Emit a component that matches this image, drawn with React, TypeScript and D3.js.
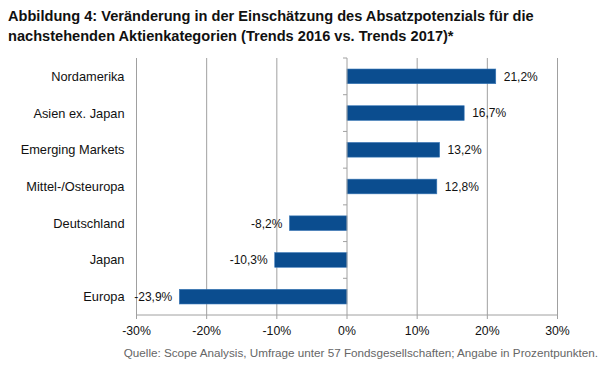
import React from "react";
import * as d3 from "d3";

const categories = ["Nordamerika", "Asien ex. Japan", "Emerging Markets", "Mittel-/Osteuropa", "Deutschland", "Japan", "Europa"];
const values = [21.2, 16.7, 13.2, 12.8, -8.2, -10.3, -23.9];
const ticks = [-30, -20, -10, 0, 10, 20, 30];
const titleLines = [
  "Abbildung 4: Veränderung in der Einschätzung des Absatzpotenzials für die",
  "nachstehenden Aktienkategorien (Trends 2016 vs. Trends 2017)*",
];
const sourceText = "Quelle: Scope Analysis, Umfrage unter 57 Fondsgesellschaften; Angabe in Prozentpunkten.";

const W = 608, H = 378;
const left = 136.5, right = 557.5, top = 58, bottom = 315;
const font = "Liberation Sans, Arial, sans-serif";

export default function App() {
  const x = d3.scaleLinear().domain([-30, 30]).range([left, right]);
  const y = d3.scaleBand().domain(categories).range([top, bottom]).paddingInner(0.6).paddingOuter(0.3);
  const yb = d3.scaleBand().domain(categories).range([top, bottom]);
  const fmt = (v: number) => v.toFixed(1).replace(".", ",") + "%";
  const x0 = x(0);
  return (
    <svg width={W} height={H} style={{ position: "absolute", left: 0, top: 0, background: "#fff" }} fontFamily={font}>
      {titleLines.map((t, i) => (
        <text key={i} x={8} y={21 + i * 19.5} fontSize={14.6} fontWeight="bold" fill="#111">{t}</text>
      ))}
      {ticks.filter(t => t !== 0).map(t => (
        <line key={t} x1={x(t)} x2={x(t)} y1={top} y2={bottom} stroke="#a0a0a0" strokeWidth={1} />
      ))}
      {categories.map((c, i) => {
        const v = values[i];
        const bx = Math.min(x(v), x0);
        const bw = Math.abs(x(v) - x0);
        const by = y(c)!;
        const bh = y.bandwidth();
        const cy = by + bh / 2;
        return (
          <g key={c}>
            <rect x={bx} y={by} width={bw} height={bh} fill="#0b4d8f" stroke="#3a78b8" strokeWidth={0.6} />
            <text x={v >= 0 ? x(v) + 8 : x(v) - 7} y={cy + 4.3} fontSize={12} fill="#111" textAnchor={v >= 0 ? "start" : "end"}>{fmt(v)}</text>
            <text x={124.5} y={cy + 4.5} fontSize={12.8} fill="#111" textAnchor="end">{c}</text>
          </g>
        );
      })}
      <line x1={x0} x2={x0} y1={top} y2={bottom} stroke="#a0a0a0" strokeWidth={1} />
      {yb.domain().map(c => (
        <line key={c} x1={x0 - 4} x2={x0} y1={yb(c)!} y2={yb(c)!} stroke="#a0a0a0" strokeWidth={1} />
      ))}
      <line x1={left} x2={right} y1={bottom} y2={bottom} stroke="#a0a0a0" strokeWidth={1} />
      {ticks.map(t => (
        <g key={t}>
          <line x1={x(t)} x2={x(t)} y1={bottom} y2={bottom + 4} stroke="#a0a0a0" strokeWidth={1} />
          <text x={x(t)} y={335} fontSize={12.3} fill="#111" textAnchor="middle">{t + "%"}</text>
        </g>
      ))}
      <text x={598} y={357} fontSize={11.7} fill="#666" textAnchor="end">{sourceText}</text>
    </svg>
  );
}
